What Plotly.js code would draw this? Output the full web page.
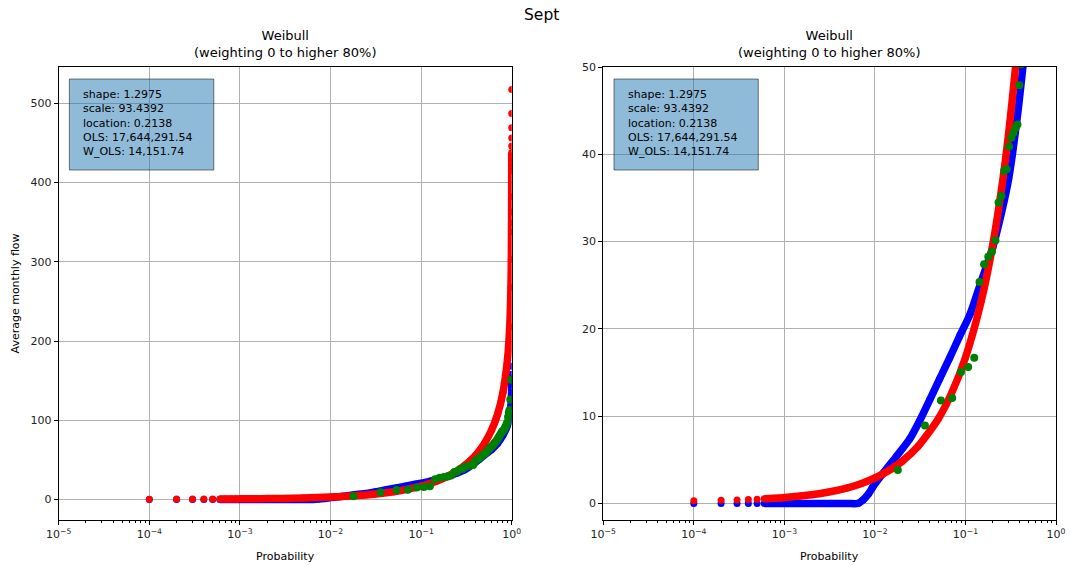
<!DOCTYPE html>
<html><head><meta charset="utf-8">
<script src="https://cdn.plot.ly/plotly-3.0.1.min.js"></script>
<style>html,body{margin:0;padding:0;background:#fff}#chart{width:1071px;height:566px}</style>
</head><body><div id="chart"></div>
<script>
// ---------- data ----------
const figTitle = 'Sept';
const subTitle = 'Weibull<br>(weighting 0 to higher 80%)';
const xTitle = 'Probability';
const yTitle = 'Average monthly flow';
const statLines = ['shape: 1.2975','scale: 93.4392','location: 0.2138','OLS: 17,644,291.54','W_OLS: 14,151.74'];

const probTicks = [1e-5,1e-4,1e-3,1e-2,1e-1,1];
const probTickText = ['10<sup>−5</sup>','10<sup>−4</sup>','10<sup>−3</sup>','10<sup>−2</sup>','10<sup>−1</sup>','10<sup>0</sup>'];
const leftYTicks = [0,100,200,300,400,500];
const rightYTicks = [0,10,20,30,40,50];

// red series (fitted Weibull)
const redP = [0.0001,0.0002,0.0003,0.0004,0.0005,0.0006,0.0007,0.0008,0.0009,0.001,0.0015,0.002,0.003,0.005,0.007,
  0.01,0.015,0.02,0.03,0.05,0.07,0.1,0.15,0.2,0.25,0.3,0.35,0.4,0.45,0.5,0.6,0.7,0.8,0.9,0.95,0.98,0.99,0.995,0.996,0.997,0.998,0.999,
  0.9991,0.9992,0.9993,0.9994,0.9995,0.9996,0.9997,0.9998,0.9999];
const redY = [0.29,0.35,0.39,0.44,0.48,0.52,0.56,0.60,0.63,0.67,0.84,0.99,1.28,1.79,2.26,
  2.91,3.91,4.83,6.55,9.68,12.59,16.71,23.25,29.62,35.99,42.43,49.04,55.89,63.07,70.66,87.56,108.02,135.06,177.92,217.88,267.57,303.40,337.99,348.9,362.8,382.17,414.60,
  419.5,424.9,431.0,438.0,446.3,456.4,469.2,487.2,517.45];

// blue series
const blueP = [0.0001,0.0002,0.0003,0.0004,0.0005,0.0006,0.0007,0.0008,0.0009,0.001,0.0015,0.002,0.003,0.005,0.0065,
  0.0074,0.0085,0.0095,0.0123,0.0173,0.0243,0.0313,0.0404,0.052,0.0671,0.0865,0.1116,0.15,0.2,0.25,0.3,0.375,0.433,0.5,
  0.6,0.7,0.8,0.9,0.95,0.98,0.99,0.995,0.998,0.999,0.9995,0.9999];
const blueY = [0,0,0,0,0,0,0,0,0,0,0,0,0,0,0,
  0.4,1.1,1.9,3.45,5.4,7.4,9.5,11.9,14.3,16.7,19.2,21.6,25.5,29.3,33.3,37.2,44.4,50.2,56,
  63,71,81,94,105,118,127,135,145,152,158,168];

// green series (observed flows)
const greenP = [0.0179,0.0357,0.0536,0.0714,0.0893,0.1071,0.125,0.1429,0.1607,0.1786,0.1964,0.2143,0.2321,0.25,0.2679,
  0.2857,0.3036,0.3214,0.3393,0.3571,0.375,0.3929,0.4107,0.4286,0.4464,0.4643,0.4821,0.5,0.5179,0.5357,0.5536,0.5714,
  0.5893,0.6071,0.625,0.6429,0.6607,0.6786,0.6964,0.7143,0.7321,0.75,0.7679,0.7857,0.8036,0.8214,0.8393,0.8571,0.875,
  0.8929,0.9107,0.9286,0.9464,0.9643,0.9821];
const greenY = [3.83,8.92,11.79,12.07,15.06,15.63,16.70,25.36,27.39,28.27,28.85,30.15,34.48,35.24,38.1,
  38.3,40.9,41.9,42.5,43.0,43.4,47.9,50.3,51,53,54.5,56,57.5,59,61,63,64.5,
  66,67.5,69,71,72.5,74,76,78,80,82,84,86,86.5,88,90,92,94.5,
  97,104,110,113,126,151];

// ---------- build ----------
const FONT = 'DejaVu Sans, Liberation Sans, sans-serif';
const BAND = 7.5;
function lineSubset(P, Y){
  const xs=[], ys=[];
  for(let i=0;i<P.length;i++){ if(P[i]>=0.0006 && P[i]<=0.9994){ xs.push(P[i]); ys.push(Y[i]); } }
  return {xs, ys};
}
const blueL = lineSubset(blueP, blueY);
const redL = lineSubset(redP, redY);

const traces = [];
[['x','y'],['x2','y2']].forEach(([xa,ya])=>{
  traces.push({x:blueL.xs, y:blueL.ys, xaxis:xa, yaxis:ya, mode:'lines', line:{color:'#0000ff', width:BAND, shape:'spline', smoothing:0.7}, hoverinfo:'skip'});
  traces.push({x:blueP, y:blueY, xaxis:xa, yaxis:ya, mode:'markers', marker:{color:'#0000ff', size:BAND-0.5}});
  traces.push({x:redL.xs, y:redL.ys, xaxis:xa, yaxis:ya, mode:'lines', line:{color:'#ff0000', width:BAND, shape:'spline', smoothing:0.7}, hoverinfo:'skip'});
  traces.push({x:redP, y:redY, xaxis:xa, yaxis:ya, mode:'markers', marker:{color:'#ff0000', size:BAND-0.5}});
  traces.push({x:greenP, y:greenY, xaxis:xa, yaxis:ya, mode:'markers', marker:{color:'#008000', size:8}});
});

const axisCommon = {showline:true, mirror:true, linecolor:'#000', linewidth:1, ticks:'outside', ticklen:4, tickwidth:1,
  tickcolor:'#000', showgrid:true, gridcolor:'#b0b0b0', gridwidth:1, zeroline:false,
  tickfont:{family:FONT, size:11, color:'#222'}};
const xCommon = Object.assign({}, axisCommon, {type:'log', range:[-5,0], tickmode:'array', tickvals:probTicks, ticktext:probTickText,
  minor:{ticks:'outside', ticklen:2, tickcolor:'#000', dtick:'D1', showgrid:false}});
const yDom = [0.0813, 0.8816];

const annotations = [];
const shapes = [];
annotations.push({text:figTitle, xref:'paper', yref:'paper', x:541/1071, y:1-15/566, xanchor:'center', yanchor:'middle', showarrow:false, font:{family:FONT, size:15.5, color:'#000'}});
[['x','y'],['x2','y2']].forEach(([xa,ya])=>{
  annotations.push({text:subTitle, xref:xa+' domain', yref:'paper', x:0.5, y:1-44/566, xanchor:'center', yanchor:'middle', showarrow:false, font:{family:FONT, size:13, color:'#000'}});
  annotations.push({text:xTitle, xref:xa+' domain', yref:'paper', x:0.5, y:1-556/566, xanchor:'center', yanchor:'middle', showarrow:false, font:{family:FONT, size:11, color:'#000'}});
  shapes.push({type:'rect', xref:xa+' domain', yref:ya+' domain', x0:0.0236, x1:0.3424, y0:0.7726, y1:0.9735,
    fillcolor:'rgba(31,119,180,0.5)', line:{color:'rgba(0,0,0,0.5)', width:1}, layer:'above'});
  annotations.push({text:statLines.join('<br>'), xref:xa+' domain', yref:ya+' domain', x:0.0495, y:0.8757, xanchor:'left', yanchor:'middle', align:'left', showarrow:false, font:{family:FONT, size:11, color:'#000'}});
});
annotations.push({text:yTitle, xref:'paper', yref:'paper', x:15/1071, y:1-293.5/566, xanchor:'center', yanchor:'middle', textangle:-90, showarrow:false, font:{family:FONT, size:11, color:'#000'}});

const layout = {
  width:1071, height:566, margin:{l:0,r:0,t:0,b:0}, showlegend:false,
  paper_bgcolor:'#fff', plot_bgcolor:'#fff', font:{family:FONT, size:11, color:'#000'},
  xaxis: Object.assign({}, xCommon, {domain:[0.0548,0.4778], anchor:'y'}),
  yaxis: Object.assign({}, axisCommon, {domain:yDom, anchor:'x', range:[-26,546], tickmode:'array', tickvals:leftYTicks}),
  xaxis2: Object.assign({}, xCommon, {domain:[0.5633,0.9860], anchor:'y2'}),
  yaxis2: Object.assign({}, axisCommon, {domain:yDom, anchor:'x2', range:[-1.9,50], tickmode:'array', tickvals:rightYTicks}),
  annotations, shapes
};
Plotly.newPlot('chart', traces, layout, {displayModeBar:false, staticPlot:true});
</script></body></html>
